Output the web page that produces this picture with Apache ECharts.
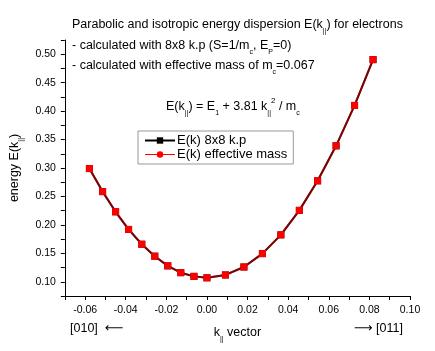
<!DOCTYPE html>
<html lang="en">
<head>
  <meta charset="UTF-8">
  <title>Parabolic energy dispersion</title>
  <style>
    html, body { margin: 0; padding: 0; background: #fff; }
    #chart { width: 435px; height: 351px; }
  </style>
</head>
<body>
<div id="chart"></div>
<script src="https://cdn.jsdelivr.net/npm/echarts@6/dist/echarts.min.js"></script>
<script>
  // k vector: negative side towards [010], positive side towards [011]
  const kVector = [-0.0579, -0.0514, -0.0450, -0.0386, -0.0321, -0.0257, -0.0193, -0.0129, -0.0064, 0,
                   0.0091, 0.0182, 0.0273, 0.0364, 0.0455, 0.0545, 0.0636, 0.0727, 0.0818];
  const energyKp = [0.299, 0.2585, 0.223, 0.192, 0.166, 0.145, 0.128, 0.116, 0.1095, 0.107,
                    0.112, 0.126, 0.1495, 0.1825, 0.2255, 0.2775, 0.339, 0.410, 0.4905];
  const energyEff = [0.299, 0.2585, 0.223, 0.192, 0.166, 0.145, 0.128, 0.116, 0.1095, 0.107,
                     0.112, 0.126, 0.1495, 0.1825, 0.2255, 0.2775, 0.339, 0.410, 0.4905];
  const seriesNames = ['E(k) 8x8 k.p', 'E(k) effective mass'];

  const FONT = 'Liberation Sans, Arial, sans-serif';
  const richBase = {
    n: { fontSize: 12.5, fontFamily: FONT, lineHeight: 20, color: '#000' },
    s: { fontSize: 7, fontFamily: FONT, lineHeight: 9, verticalAlign: 'bottom', color: '#000' },
    u: { fontSize: 8, fontFamily: FONT, lineHeight: 10, verticalAlign: 'top', color: '#000' },
    a: { fontSize: 13, fontFamily: 'DejaVu Sans', lineHeight: 20, color: '#000' }
  };

  const chart = echarts.init(document.getElementById('chart'));

  function textEl(x, y, text) {
    return {
      type: 'text', x: x, y: y,
      style: { text: text, rich: richBase, fontSize: 12.5, fontFamily: FONT, fill: '#000', verticalAlign: 'middle' }
    };
  }

  const option = {
    animation: false,
    grid: { left: 62, right: 25, top: 40, bottom: 55 },
    legend: {
      orient: 'vertical',
      left: 138, top: 131,
      itemWidth: 30, itemHeight: 8, itemGap: 1,
      padding: [3, 6, 3, 6],
      borderColor: '#999', borderWidth: 1,
      textStyle: { fontSize: 13, fontFamily: FONT, color: '#000', padding: [0, 0, 0, -3] },
      data: [
        { name: seriesNames[0] },
        { name: seriesNames[1], lineStyle: { width: 1, opacity: 1 } }
      ]
    },
    xAxis: {
      type: 'value', min: -0.07, max: 0.10, interval: 0.01,
      name: '{n|k}{s|||}{n| vector}', nameLocation: 'middle', nameGap: 27,
      nameTextStyle: { rich: richBase },
      axisLine: { onZero: false, lineStyle: { color: '#000', width: 1 } },
      axisTick: { length: 4, lineStyle: { color: '#000' } },
      splitLine: { show: false },
      axisLabel: {
        fontSize: 10.5, fontFamily: FONT, color: '#000', margin: 9,
        formatter: v => (Math.round(v * 100) % 2 === 0 ? v.toFixed(2) : '')
      }
    },
    yAxis: {
      type: 'value', min: 0.075, max: 0.525, interval: 0.025,
      name: '{n|energy E(k}{s|||}{n|)}', nameLocation: 'middle', nameGap: 36, nameRotate: 90,
      nameTextStyle: { rich: richBase },
      axisLine: { show: true, onZero: false, lineStyle: { color: '#000', width: 1 } },
      axisTick: { show: true, length: 4, lineStyle: { color: '#000' } },
      splitLine: { show: false },
      axisLabel: {
        fontSize: 10.5, fontFamily: FONT, color: '#000', margin: 9,
        formatter: v => (Math.round(v * 1000) % 50 === 0 ? v.toFixed(2) : '')
      }
    },
    series: [
      {
        name: seriesNames[0], type: 'line',
        data: kVector.map((k, i) => [k, energyKp[i]]),
        symbol: 'rect', symbolSize: 7,
        lineStyle: { color: '#000', width: 2 },
        itemStyle: { color: '#000' },
        z: 2
      },
      {
        name: seriesNames[1], type: 'line',
        data: kVector.map((k, i) => ({ value: [k, energyEff[i]], symbol: 'rect' })),
        symbol: 'circle', symbolSize: 7,
        lineStyle: { color: '#ff0000', width: 2, opacity: 0.5 },
        itemStyle: { color: '#ff0000' },
        z: 3
      }
    ],
    graphic: [
      textEl(72, 25, '{n|Parabolic and isotropic energy dispersion E(k}{s|||}{n|) for electrons}'),
      textEl(72, 46, '{n|- calculated with 8x8 k.p (S=1/m}{s|c}{n|, E}{s|P}{n|=0)}'),
      textEl(72, 66, '{n|- calculated with effective mass of m}{s|c}{n|=0.067}'),
      textEl(166, 107, '{n|E(k}{s|||}{n|) = E}{s|1}{n| + 3.81 k}{s|||}{u|2}{n| / m}{s|c}'),
      textEl(70, 329, '{n|[010]  }{a|\u27F5}'),
      textEl(354, 329, '{a|\u27F6}{n| [011]}')
    ]
  };

  chart.setOption(option);
</script>
</body>
</html>
